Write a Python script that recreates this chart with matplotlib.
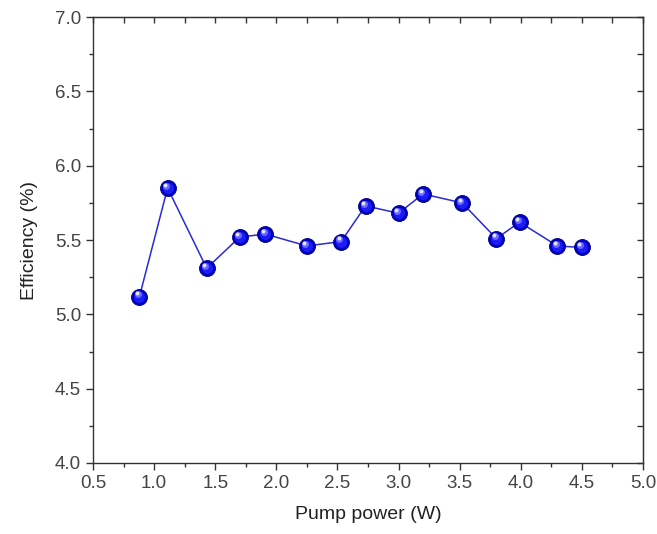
import matplotlib.pyplot as plt
import matplotlib.transforms as mtransforms
from matplotlib.ticker import MultipleLocator

plt.rcParams['font.family'] = ['Liberation Sans', 'DejaVu Sans']

pump_power = [0.88, 1.11, 1.43, 1.70, 1.91, 2.25, 2.53, 2.73, 3.00, 3.20, 3.52, 3.80, 3.99, 4.30, 4.50]
efficiency = [5.12, 5.85, 5.31, 5.52, 5.54, 5.46, 5.49, 5.73, 5.68, 5.81, 5.75, 5.51, 5.62, 5.46, 5.45]

fig = plt.figure(figsize=(6.57, 5.34), dpi=100)
ax = fig.add_axes([0.1416, 0.133, 0.8371, 0.835])

ax.plot(pump_power, efficiency, color='#2a2ad8', lw=1.1, zorder=2)
# sphere look: dark blue ball, lighter core, white glint
ax.plot(pump_power, efficiency, 'o', ms=11.5, color='#0000c0',
        mec='#000080', mew=0.6, zorder=3)
ax.plot(pump_power, efficiency, 'o', ms=8, color='#1c1cf8', mew=0, zorder=4)
soft = mtransforms.offset_copy(ax.transData, fig=fig, x=-1.2, y=1.6, units='points')
ax.plot(pump_power, efficiency, 'o', ms=5, color='#6a6aff', mew=0,
        transform=soft, zorder=5)
glint = mtransforms.offset_copy(ax.transData, fig=fig, x=-1.8, y=2.2, units='points')
ax.plot(pump_power, efficiency, 'o', ms=2.8, color='#e4e4ff', mew=0,
        transform=glint, zorder=6)

ax.set_xlim(0.5, 5.0)
ax.set_ylim(4.0, 7.0)
ax.xaxis.set_major_locator(MultipleLocator(0.5))
ax.xaxis.set_minor_locator(MultipleLocator(0.25))
ax.yaxis.set_major_locator(MultipleLocator(0.5))
ax.yaxis.set_minor_locator(MultipleLocator(0.25))
ax.xaxis.set_major_formatter(plt.FormatStrFormatter('%.1f'))
ax.yaxis.set_major_formatter(plt.FormatStrFormatter('%.1f'))

ax.tick_params(which='major', direction='out', length=5, width=1, labelsize=13.5,
               colors='#333333', labelcolor='#444444')
ax.tick_params(which='minor', direction='out', length=3, width=1, colors='#333333')

for side in ['top', 'right']:
    sec = ax.secondary_xaxis('top') if side == 'top' else ax.secondary_yaxis('right')
    axis = sec.xaxis if side == 'top' else sec.yaxis
    axis.set_major_locator(MultipleLocator(0.5))
    axis.set_minor_locator(MultipleLocator(0.25))
    sec.tick_params(which='both', direction='in', length=4, width=1,
                    labelleft=False, labelright=False, labeltop=False, colors='#333333')
    sec.spines[side].set_color('#333333')

for s in ax.spines.values():
    s.set_color('#333333')
    s.set_linewidth(1)

ax.set_xlabel('Pump power (W)', fontsize=14, color='#222222', labelpad=10)
ax.set_ylabel('Efficiency (%)', fontsize=14, color='#222222', labelpad=12)

fig.savefig('out.png', dpi=100)
